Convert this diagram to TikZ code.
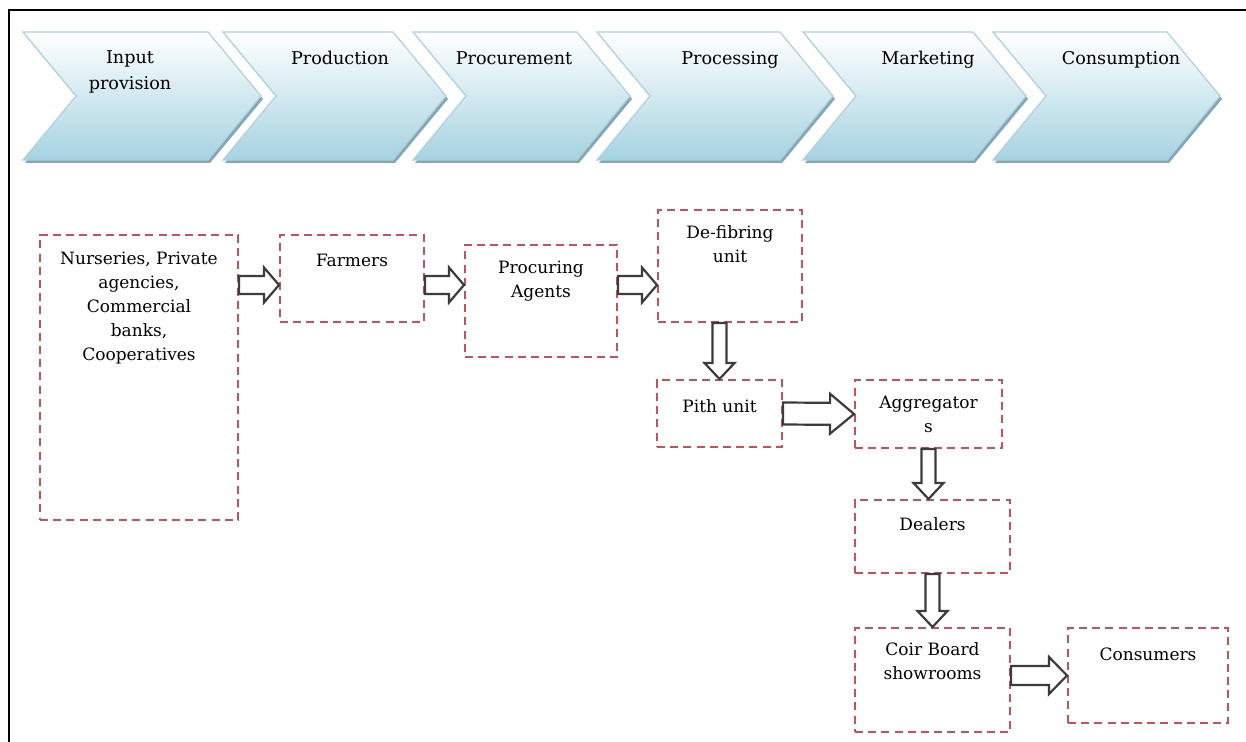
\documentclass[tikz,border=0pt]{standalone}
\usepackage{fontspec}
\setmainfont{DejaVu Serif}
\usetikzlibrary{positioning,calc}

\definecolor{chevblue}{RGB}{166,211,225}
\definecolor{chevmid}{RGB}{214,235,242}
\definecolor{chevshadow}{RGB}{130,168,182}
\definecolor{chevline}{RGB}{176,208,218}
\definecolor{boxred}{RGB}{200,80,90}
\definecolor{arrowgray}{RGB}{60,60,60}

\begin{document}
\begin{tikzpicture}[
  x=0.5pt, y=-0.5pt,
  stagetext/.style={align=center, inner sep=0pt, anchor=north, font=\fontsize{8.8}{13}\selectfont},
  chainbox/.style={draw=boxred, line width=1pt, dash pattern=on 4pt off 2.6pt, inner sep=0pt},
  boxtext/.style={align=center, inner sep=0pt, font=\fontsize{8.5}{12}\selectfont},
  hollowarrow/.style n args={3}{draw=arrowgray, fill=white, line width=1.1pt, line join=miter,
    to path={
      coordinate (neck) at ($(\tikztotarget)!#3!(\tikztostart)$)
      ($(\tikztostart)!#1!90:(\tikztotarget)$)
      -- ($(neck)!#1!90:(\tikztotarget)$)
      -- ($(neck)!#2!90:(\tikztotarget)$)
      -- (\tikztotarget)
      -- ($(neck)!#2!-90:(\tikztotarget)$)
      -- ($(neck)!#1!-90:(\tikztotarget)$)
      -- ($(\tikztostart)!#1!-90:(\tikztotarget)$)
      -- cycle}},
  ]
  \useasboundingbox (0,0) rectangle (1246,742);
  \draw[line width=1.2pt] (1246,10) -- (9,10) -- (9,742);

  % stage band
  \foreach \tl/\tr in {23/208, 223/393, 413/577, 597/780, 803/973, 993/1167} {
    \fill[chevshadow, shift={(2,3)}]
      (\tl,32) -- (\tr,32) -- (\tr+53,96) -- (\tr,160) -- (\tl,160) -- (\tl+53,96) -- cycle;
    \path[top color=white, middle color=chevmid, bottom color=chevblue, draw=chevline, line width=0.6pt]
      (\tl,32) -- (\tr,32) -- (\tr+53,96) -- (\tr,160) -- (\tl,160) -- (\tl+53,96) -- cycle;
  }
  \node[stagetext] (stageInput) at (130,50) {Input\\provision};
  \node[stagetext] (stageProduction) at (340,51) {Production};
  \node[stagetext] (stageProcurement) at (514,51) {Procurement};
  \node[stagetext] (stageProcessing) at (730,51) {Processing};
  \node[stagetext] (stageMarketing) at (928,51) {Marketing};
  \node[stagetext] (stageConsumption) at (1121,51) {Consumption};

  % chain boxes
  \node[chainbox, minimum width=99pt, minimum height=142.5pt] (boxNursery) at (139,377.5) {};
  \node[chainbox, minimum width=72pt, minimum height=43.5pt] (boxFarmers) at (352,278.5) {};
  \node[chainbox, minimum width=76pt, minimum height=56pt] (boxProcuring) at (541,301) {};
  \node[chainbox, minimum width=72pt, minimum height=56pt] (boxDefib) at (730,266) {};
  \node[chainbox, minimum width=62.5pt, minimum height=33.5pt] (boxPith) at (719.5,413.5) {};
  \node[chainbox, minimum width=73.5pt, minimum height=34pt] (boxAggr) at (928.5,414) {};
  \node[chainbox, minimum width=77.5pt, minimum height=36.5pt] (boxDealers) at (932.5,536.5) {};
  \node[chainbox, minimum width=77.5pt, minimum height=52pt] (boxCoir) at (932.5,680) {};
  \node[chainbox, minimum width=80pt, minimum height=47.5pt] (boxConsumers) at (1148,675.5) {};

  \node[boxtext, below=9pt of boxNursery.north] (textNursery)
    {Nurseries, Private\\agencies,\\Commercial\\banks,\\Cooperatives};
  \node[boxtext, below=10pt of boxFarmers.north] (textFarmers) {Farmers};
  \node[boxtext, below=8.3pt of boxProcuring.north] (textProcuring) {Procuring\\Agents};
  \node[boxtext, below=8.3pt of boxDefib.north] (textDefib) {De-fibring\\unit};
  \node[boxtext, below=10pt of boxPith.north] (textPith) {Pith unit};
  \node[boxtext, below=8.3pt of boxAggr.north] (textAggr) {Aggregator\\s};
  \node[boxtext, below=9.3pt of boxDealers.north] (textDealers) {Dealers};
  \node[boxtext, below=7.8pt of boxCoir.north] (textCoir) {Coir Board\\showrooms};
  \node[boxtext, below=10pt of boxConsumers.north] (textConsumers) {Consumers};

  % flow arrows
  \coordinate (flowRow) at (0,285);
  \draw[hollowarrow={4.5pt}{8.75pt}{7.5pt}] (boxNursery.east |- flowRow) to (boxFarmers.west |- flowRow);
  \draw[hollowarrow={4.5pt}{8.75pt}{7.5pt}] (boxFarmers.east |- flowRow) to (boxProcuring.west |- flowRow);
  \draw[hollowarrow={4.5pt}{8.75pt}{7.5pt}] (boxProcuring.east |- flowRow) to (boxDefib.west |- flowRow);
  \draw[hollowarrow={3.5pt}{7.5pt}{8pt}] (boxPith.north |- boxDefib.south) to (boxPith.north);
  \draw[hollowarrow={5.5pt}{10pt}{12pt}] (boxPith.east) to (boxAggr.west);
  \draw[hollowarrow={3.5pt}{7.5pt}{8pt}] (boxAggr.south) to (boxAggr.south |- boxDealers.north);
  \draw[hollowarrow={3.5pt}{7.5pt}{8pt}] (boxDealers.south) to (boxCoir.north);
  \draw[hollowarrow={4.75pt}{9.25pt}{9pt}] (boxCoir.east |- boxConsumers.west) to (boxConsumers.west);
\end{tikzpicture}
\end{document}
